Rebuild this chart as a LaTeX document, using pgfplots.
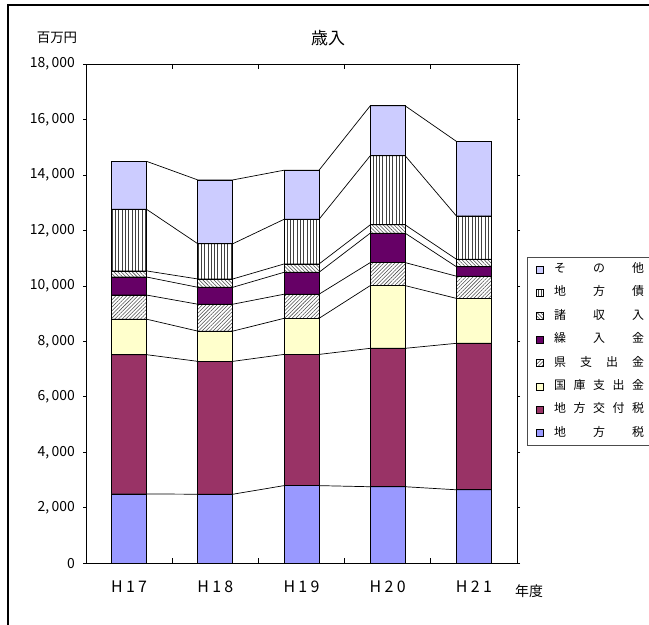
\documentclass[border=0pt]{standalone}
\usepackage{fontspec}
\setmainfont{Noto Sans CJK JP}
\usepackage{pgfplots}
\pgfplotsset{compat=1.18}
\usepackage{pgfplotstable}
\usetikzlibrary{patterns.meta}

\definecolor{zei}{HTML}{9999FF}
\definecolor{koufu}{HTML}{993366}
\definecolor{kokko}{HTML}{FFFFCC}
\definecolor{kuri}{HTML}{660066}
\definecolor{other}{HTML}{CCCCFF}

% revenue by source, million yen
\pgfplotstableread{
x tax koufu kokko ken kuri shosyu sai other
1 2500 5020 1280 870 650 220 2220 1730
2 2490 4790 1090 970 610 300 1270 2300
3 2800 4730 1300 870 790 300 1610 1770
4 2760 4990 2260 830 1060 300 2490 1800
5 2650 5280 1620 800 340 270 1560 2690
}\bardata

% same values at the left and right edge of each bar, for the series lines
\pgfplotstableread{
x tax koufu kokko ken kuri shosyu sai other
0.797 2500 5020 1280 870 650 220 2220 1730
1.203 2500 5020 1280 870 650 220 2220 1730
1.797 2490 4790 1090 970 610 300 1270 2300
2.203 2490 4790 1090 970 610 300 1270 2300
2.797 2800 4730 1300 870 790 300 1610 1770
3.203 2800 4730 1300 870 790 300 1610 1770
3.797 2760 4990 2260 830 1060 300 2490 1800
4.203 2760 4990 2260 830 1060 300 2490 1800
4.797 2650 5280 1620 800 340 270 1560 2690
5.203 2650 5280 1620 800 340 270 1560 2690
}\linedata

\newcommand{\spread}[1]{\makebox[90bp][s]{#1}}
\newcommand{\yr}[2]{\makebox[36bp][s]{H\hfill #1\hfill #2}}

\begin{document}
\begin{tikzpicture}[x=1bp,y=1bp]
\useasboundingbox (0,0) rectangle (649,625);
\draw[line width=1.3bp] (8,-20) -- (8,620) -- (700,620);

\begin{axis}[
    at={(86bp,61.7bp)}, anchor=south west,
    scale only axis,
    width=431bp, height=499.3bp,
    ybar stacked,
    bar width=0.406,
    xmin=0.5, xmax=5.5,
    ymin=0, ymax=18000,
    ytick={0,2000,...,18000},
    xtick={1,2,3,4,5},
    xticklabels={\yr17,\yr18,\yr19,\yr20,\yr21},
    major x tick style={draw=none},
    tick align=outside,
    major tick length=3bp,
    axis line style={black, line width=0.9bp},
    y tick style={black, line width=0.8bp},
    scaled y ticks=false,
    yticklabel style={
      /pgf/number format/fixed,
      /pgf/number format/1000 sep={,\,},
      /pgf/number format/assume math mode=true,
      anchor=east, inner sep=0pt, xshift=-8bp,
      font=\fontsize{14}{14}\selectfont},
    xticklabel style={anchor=center, yshift=-20bp,
      font=\fontsize{16}{16}\selectfont},
    every axis plot/.append style={draw=black, line width=0.8bp},
    legend image code/.code={\draw[#1,line width=0.6bp] (0bp,-3.5bp) rectangle (7bp,3.5bp);},
    reverse legend,
    legend cell align=left,
    legend style={
      at={(1.0232,0.6135)}, anchor=north west,
      draw=black!70, line width=0.9bp,
      inner xsep=8.5bp, inner ysep=6.5bp,
      row sep=12.4bp, column sep=10.5bp,
      font=\fontsize{12}{12}\selectfont,
      nodes={inner sep=0pt, text height=8.5bp, text depth=2.5bp}},
  ]
  \addplot[fill=zei] table[x=x, y=tax] {\bardata};
  \addlegendentry{\spread{地\hfill 方\hfill 税}}
  \addplot[fill=koufu] table[x=x, y=koufu] {\bardata};
  \addlegendentry{\spread{地\hfill 方\hfill 交\hfill 付\hfill 税}}
  \addplot[fill=kokko] table[x=x, y=kokko] {\bardata};
  \addlegendentry{\spread{国\hfill 庫\hfill 支\hfill 出\hfill 金}}
  \addplot[fill=white, pattern={Lines[angle=45, distance=2.6bp, line width=0.55bp]}, pattern color=black!70] table[x=x, y=ken] {\bardata};
  \addlegendentry{\spread{県\hfill 支\hfill 出\hfill 金}}
  \addplot[fill=kuri] table[x=x, y=kuri] {\bardata};
  \addlegendentry{\spread{繰\hfill 入\hfill 金}}
  \addplot[fill=white, pattern={Lines[angle=-45, distance=2.6bp, line width=0.55bp]}, pattern color=black!70] table[x=x, y=shosyu] {\bardata};
  \addlegendentry{\spread{諸\hfill 収\hfill 入}}
  \addplot[fill=white, pattern={Lines[angle=90, distance=3.3bp, line width=0.8bp]}, pattern color=black!75] table[x=x, y=sai] {\bardata};
  \addlegendentry{\spread{地\hfill 方\hfill 債}}
  \addplot[fill=other] table[x=x, y=other] {\bardata};
  \addlegendentry{\spread{そ\hfill の\hfill 他}}
\end{axis}

\begin{axis}[
    at={(86bp,61.7bp)}, anchor=south west,
    scale only axis,
    width=431bp, height=499.3bp,
    xmin=0.5, xmax=5.5,
    ymin=0, ymax=18000,
    stack plots=y,
    axis line style={draw=none},
    ytick=\empty,
    xtick={1.5,2.5,3.5,4.5},
    xticklabels={},
    tick align=inside,
    major tick length=5bp,
    x tick style={black, line width=0.8bp},
  ]
  \addplot[black, solid, line width=0.7bp, mark=none] table[x=x, y=tax] {\linedata};
  \addplot[black, solid, line width=0.7bp, mark=none] table[x=x, y=koufu] {\linedata};
  \addplot[black, solid, line width=0.7bp, mark=none] table[x=x, y=kokko] {\linedata};
  \addplot[black, solid, line width=0.7bp, mark=none] table[x=x, y=ken] {\linedata};
  \addplot[black, solid, line width=0.7bp, mark=none] table[x=x, y=kuri] {\linedata};
  \addplot[black, solid, line width=0.7bp, mark=none] table[x=x, y=shosyu] {\linedata};
  \addplot[black, solid, line width=0.7bp, mark=none] table[x=x, y=sai] {\linedata};
  \addplot[black, solid, line width=0.7bp, mark=none] table[x=x, y=other] {\linedata};
\end{axis}

\node[font=\fontsize{17}{17}\selectfont] at (328,587) {歳入};
\node[font=\fontsize{13.5}{13.5}\selectfont] at (57,587) {百万円};
\node[font=\fontsize{14}{14}\selectfont] at (529,34) {年度};
\end{tikzpicture}
\end{document}
